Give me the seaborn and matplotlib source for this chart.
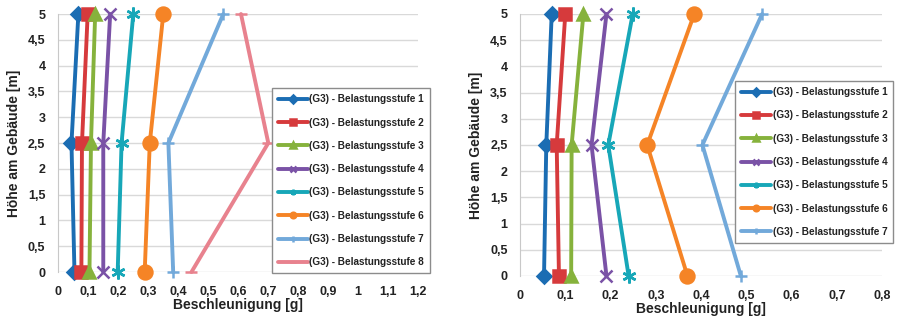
import matplotlib
matplotlib.use("Agg")
import matplotlib.pyplot as plt
import seaborn as sns
import pandas as pd
from matplotlib.ticker import FuncFormatter, MultipleLocator

# Höhe der Messpunkte [m]
hoehe = [0, 2.5, 5]

# linkes Diagramm: Beschleunigung [g] je Belastungsstufe (unten, mitte, oben)
links = {
    "(G3) - Belastungsstufe 1": [0.055, 0.045, 0.068],
    "(G3) - Belastungsstufe 2": [0.078, 0.080, 0.099],
    "(G3) - Belastungsstufe 3": [0.105, 0.110, 0.124],
    "(G3) - Belastungsstufe 4": [0.151, 0.151, 0.174],
    "(G3) - Belastungsstufe 5": [0.199, 0.212, 0.251],
    "(G3) - Belastungsstufe 6": [0.289, 0.306, 0.351],
    "(G3) - Belastungsstufe 7": [0.384, 0.368, 0.551],
    "(G3) - Belastungsstufe 8": [0.445, 0.701, 0.610],
}

# rechtes Diagramm
rechts = {
    "(G3) - Belastungsstufe 1": [0.053, 0.058, 0.070],
    "(G3) - Belastungsstufe 2": [0.086, 0.081, 0.100],
    "(G3) - Belastungsstufe 3": [0.113, 0.114, 0.140],
    "(G3) - Belastungsstufe 4": [0.191, 0.158, 0.191],
    "(G3) - Belastungsstufe 5": [0.240, 0.195, 0.249],
    "(G3) - Belastungsstufe 6": [0.370, 0.281, 0.385],
    "(G3) - Belastungsstufe 7": [0.488, 0.403, 0.535],
}

farben = ["#1b6db3", "#d63a3c", "#86b23c", "#7a52a6", "#17a7b8",
          "#f58426", "#72a9da", "#e8828e"]
marker = ["D", "s", "^", "x", (6, 2, 0), "o", "+", "_"]
groesse = [7, 8, 9, 9, 10, 10, 8, 9]

sns.set_style("white")
plt.rcParams["font.family"] = ["Liberation Sans", "DejaVu Sans"]

fig = plt.figure(figsize=(9.03, 3.21), dpi=100)
ax1 = fig.add_axes([0.0642, 0.1526, 0.3987, 0.8037])
ax2 = fig.add_axes([0.5759, 0.1402, 0.4009, 0.8162])

komma = FuncFormatter(lambda v, p: f"{v:g}".replace(".", ","))


def zeichne(ax, daten, xmax, leg_anchor):
    for i, (name, werte) in enumerate(daten.items()):
        df = pd.DataFrame({"a": werte, "h": hoehe})
        sns.lineplot(data=df, x="a", y="h", ax=ax, sort=False, orient="y",
                     color=farben[i], lw=2.8, marker=marker[i],
                     ms=groesse[i], mew=1.8, mec=farben[i], label=name,
                     clip_on=False, zorder=3 + i)
    ax.set_xlim(0, xmax)
    ax.set_ylim(0, 5)
    ax.xaxis.set_major_locator(MultipleLocator(0.1))
    ax.yaxis.set_major_locator(MultipleLocator(0.5))
    ax.xaxis.set_major_formatter(komma)
    ax.yaxis.set_major_formatter(komma)
    ax.grid(axis="y", color="#d9d9d9", lw=1)
    ax.grid(axis="x", visible=False)
    for s in ["top", "right", "bottom"]:
        ax.spines[s].set_visible(False)
    ax.spines["left"].set_color("#c8c8c8")
    ax.tick_params(length=0, labelsize=9, colors="#222222")
    ax.tick_params(axis="x", pad=10)
    ax.tick_params(axis="y", pad=9)
    for t in ax.get_xticklabels() + ax.get_yticklabels():
        t.set_fontweight("bold")
    ax.set_xlabel("Beschleunigung [g]", fontsize=10, fontweight="bold",
                  color="#222222", labelpad=0)
    ax.set_ylabel("Höhe am Gebäude [m]", fontsize=10, fontweight="bold",
                  color="#222222", labelpad=5)
    leg = ax.legend(loc="lower left", bbox_to_anchor=leg_anchor,
                    fontsize=7.2, frameon=True, fancybox=False,
                    edgecolor="#8c8c8c", framealpha=1, handlelength=3.0,
                    handletextpad=0.15, labelspacing=1.33, borderpad=0.6,
                    borderaxespad=0)
    leg.get_frame().set_linewidth(1.0)
    for h in leg.legend_handles:
        h.set_markersize(4)
        h.set_linewidth(2.8)
    for t in leg.get_texts():
        t.set_fontweight("bold")
        t.set_color("#222222")
    leg.set_zorder(20)


zeichne(ax1, links, 1.2, (0.594, -0.005))
zeichne(ax2, rechts, 0.8, (0.594, 0.126))

fig.savefig("out.png", dpi=100)
